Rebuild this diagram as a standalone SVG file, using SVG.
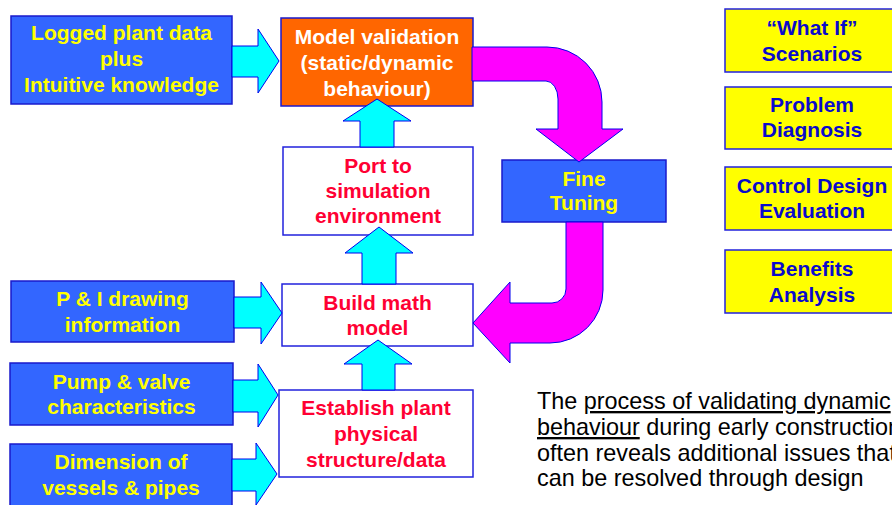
<svg xmlns="http://www.w3.org/2000/svg" width="892" height="505" viewBox="0 0 892 505">
<style>
text{font-family:"Liberation Sans",Arial,sans-serif;font-weight:bold;font-size:21px;text-anchor:middle}
.blue{fill:#3366FF;stroke:#1A1ACC;stroke-width:1.5}
.orange{fill:#FF6600;stroke:#1A1ACC;stroke-width:1.5}
.white{fill:#FFFFFF;stroke:#2222DD;stroke-width:1.5}
.yel{fill:#FFFF00;stroke:#2222DD;stroke-width:1.5}
.ty{fill:#FFFF00}
.tw{fill:#FFFFFF}
.tr{fill:#FF0033}
.tb{fill:#0A0ACC}
.cyan{fill:#00FFFF;stroke:#0000EE;stroke-width:1}
.mag{fill:#FF00FF;stroke:#0000EE;stroke-width:1}
.note{font-weight:normal;font-size:23.4px;text-anchor:start;fill:#000000}
</style>
<g id="logged">
<rect class="blue" x="11" y="16" width="221" height="88"/>
<text class="ty"><tspan x="121.5" y="40">Logged plant data</tspan><tspan x="121.5" y="66">plus</tspan><tspan x="121.5" y="92">Intuitive knowledge</tspan></text>
</g>
<g id="validation">
<rect class="orange" x="281" y="18" width="192" height="88"/>
<text class="tw"><tspan x="377" y="44">Model validation</tspan><tspan x="377" y="70">(static/dynamic</tspan><tspan x="377" y="96">behaviour)</tspan></text>
</g>
<g id="port">
<rect class="white" x="283" y="147" width="190" height="88"/>
<text class="tr"><tspan x="378" y="173">Port to</tspan><tspan x="378" y="198">simulation</tspan><tspan x="378" y="223">environment</tspan></text>
</g>
<g id="build">
<rect class="white" x="282" y="284" width="191" height="62"/>
<text class="tr"><tspan x="377.5" y="310">Build math</tspan><tspan x="377.5" y="335">model</tspan></text>
</g>
<g id="establish">
<rect class="white" x="279" y="390" width="194" height="87"/>
<text class="tr"><tspan x="376" y="415">Establish plant</tspan><tspan x="376" y="441">physical</tspan><tspan x="376" y="467">structure/data</tspan></text>
</g>
<g id="pandi">
<rect class="blue" x="11" y="281" width="223" height="61"/>
<text class="ty"><tspan x="122.5" y="306">P &amp; I drawing</tspan><tspan x="122.5" y="332">information</tspan></text>
</g>
<g id="pump">
<rect class="blue" x="10" y="363" width="223" height="62"/>
<text class="ty"><tspan x="121.5" y="389">Pump &amp; valve</tspan><tspan x="121.5" y="414">characteristics</tspan></text>
</g>
<g id="dimension">
<rect class="blue" x="10" y="444" width="222" height="70"/>
<text class="ty"><tspan x="121" y="469">Dimension of</tspan><tspan x="121" y="495">vessels &amp; pipes</tspan></text>
</g>
<g id="finetuning">
<rect class="blue" x="502" y="160" width="164" height="62"/>
<text class="ty"><tspan x="584" y="186">Fine</tspan><tspan x="584" y="210">Tuning</tspan></text>
</g>
<g id="whatif">
<rect class="yel" x="725" y="9" width="180" height="63"/>
<text class="tb"><tspan x="812" y="35">“What If”</tspan><tspan x="812" y="61">Scenarios</tspan></text>
</g>
<g id="diagnosis">
<rect class="yel" x="725" y="87" width="180" height="62"/>
<text class="tb"><tspan x="812" y="112">Problem</tspan><tspan x="812" y="137">Diagnosis</tspan></text>
</g>
<g id="controldesign">
<rect class="yel" x="725" y="167" width="180" height="63"/>
<text class="tb"><tspan x="812" y="193">Control Design</tspan><tspan x="812" y="218">Evaluation</tspan></text>
</g>
<g id="benefits">
<rect class="yel" x="725" y="250" width="180" height="63"/>
<text class="tb"><tspan x="812" y="276">Benefits</tspan><tspan x="812" y="302">Analysis</tspan></text>
</g>
<g id="connectors">
<path class="cyan" d="M232,46 L258,46 L258,29 L279,61 L258,93 L258,77 L232,77 Z"/>
<path class="cyan" d="M234,297 L261,297 L261,282 L282,313 L261,344 L261,328 L234,328 Z"/>
<path class="cyan" d="M233,380 L258,380 L258,364 L278,395 L258,427 L258,412 L233,412 Z"/>
<path class="cyan" d="M232,459 L256,459 L256,443 L277,474 L256,505 L256,491 L232,491 Z"/>
<path class="cyan" d="M360,147 L360,121 L343,121 L377,99 L411,121 L394,121 L394,147 Z"/>
<path class="cyan" d="M362,284 L362,253 L345,253 L379,227 L413,253 L396,253 L396,284 Z"/>
<path class="cyan" d="M362,390 L362,364 L344,364 L378,340 L412,364 L395,364 L395,390 Z"/>
<path class="mag" d="M472,47 L547,47 A55,55 0 0 1 602,102 L602,129 L623,129 L579,162 L536,129 L558,129 L558,99 A12,18 0 0 0 546,81 L472,81 Z"/>
<path class="mag" d="M566,222 L603,222 L603,290 A53,53 0 0 1 550,343 L510,343 L510,363 L473,323 L510,282 L510,303 L552,303 A14,14 0 0 0 566,289 Z"/>
</g>
<text class="note"><tspan x="537" y="409">The <tspan text-decoration="underline">process of validating dynamic</tspan></tspan><tspan x="537" y="435"><tspan text-decoration="underline">behaviour</tspan> during early construction</tspan><tspan x="537" y="461">often reveals additional issues that</tspan><tspan x="537" y="486">can be resolved through design</tspan></text>
</svg>
